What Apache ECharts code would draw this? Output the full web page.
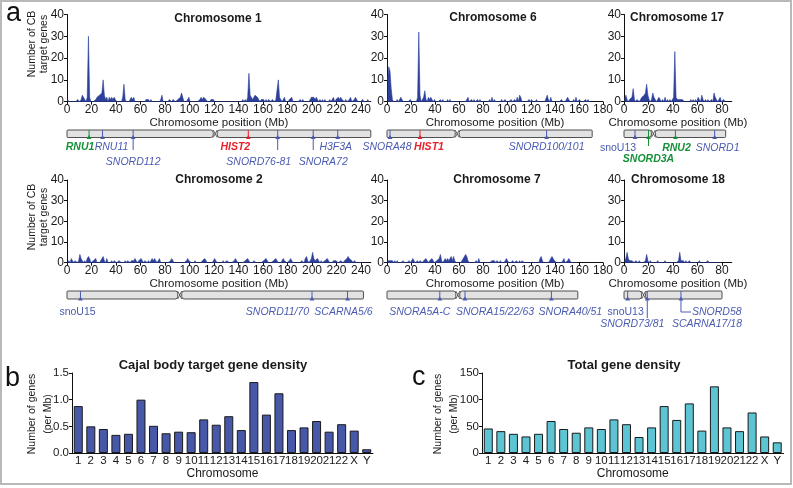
<!DOCTYPE html>
<html><head><meta charset="utf-8">
<script src="https://cdn.jsdelivr.net/npm/echarts@6/dist/echarts.min.js"></script>
<style>html,body{margin:0;padding:0;background:#fff}#c{width:793px;height:488px}</style>
</head><body><div id="c"></div>
<script>
// ---------------- DATA ----------------
const chromosomeNames = ['Chromosome 1','Chromosome 6','Chromosome 17','Chromosome 2','Chromosome 7','Chromosome 18'];
const chromosomeLengths = [248, 171, 83, 242, 159, 80];   // Mb
const centromeres = [121, 58.5, 24, 92, 59, 16];          // Mb

// CB target genes per 1-Mb bin
const chr1Counts = [1,0,0,0,0,0,0,0,1,1, 0,1,3,3,1,0,2,30,2,0, 0,0,0,1,2,2,3,3,4,10, 3,1,2,0,2,1,2,1,2,1,
 0,0,0,0,0,2,8,1,0,0, 0,1,2,1,2,0,0,0,0,0, 0,0,0,0,1,1,1,0,1,0, 0,0,0,0,0,0,1,3,0,0,
 0,0,0,1,1,0,1,1,0,0, 1,1,2,4,2,0,0,0,0,2, 0,0,0,0,0,0,0,0,1,2, 1,2,2,1,0,0,0,1,1,1,
 0,0,0,0,0,0,0,0,0,0, 0,0,0,0,0,0,0,0,0,0, 0,0,0,1,0,1,0,2,13,3, 2,1,2,3,3,2,1,0,1,1,
 1,0,1,0,1,1,0,1,1,0, 1,1,10,2,1,0,0,2,0,0, 0,1,1,2,0,0,0,0,0,0, 1,0,1,0,0,0,0,0,1,2,
 2,2,1,2,1,0,1,0,1,0, 1,0,0,0,1,0,0,2,0,1, 1,2,1,2,1,1,0,1,0,0, 1,2,0,0,1,2,1,0,0,0,
 0,1,0,0,0,1,0,0];
const chr6Counts = [10,16,14,6,1,0,0,0,1,0, 1,2,1,0,0,0,0,0,0,1, 0,0,0,0,0,2,32,3,0,0, 2,5,1,0,2,1,2,1,0,1,
 0,0,0,0,1,0,1,0,0,0, 1,0,1,0,0,0,0,0,0,0, 0,0,0,0,0,0,0,2,0,0, 1,0,1,0,0,1,0,1,0,0,
 0,0,0,0,0,1,0,2,0,1, 0,0,0,0,0,1,0,0,1,0, 0,0,0,1,0,0,1,0,2,0, 3,2,0,0,0,0,0,0,1,0,
 1,0,0,0,1,0,0,0,0,0, 0,0,0,3,1,0,2,0,0,0, 0,0,0,0,0,1,0,0,0,0, 2,1,0,0,0,1,0,2,0,0,
 1,0,0,0,0,1,0,1,0,0, 0];
const chr17Counts = [1,3,1,0,1,1,2,6,1,0, 1,1,0,1,2,2,3,4,8,3, 1,0,1,4,2,1,0,1,2,1, 0,1,0,2,0,1,0,1,0,1,
 2,23,2,1,1,1,1,1,1,0, 0,0,0,0,1,0,1,0,1,0, 2,1,0,3,1,0,1,0,1,0, 0,1,0,4,2,1,0,1,2,0,
 0,1,0];
const chr2Counts = [0,1,0,2,1,0,1,1,0,1, 4,2,1,0,1,0,2,3,2,0, 0,1,1,2,0,0,0,1,1,3, 1,0,2,0,0,0,1,0,1,1,
 0,0,1,1,0,0,0,1,0,1, 1,0,1,1,1,2,1,0,1,1, 2,1,0,1,1,0,1,0,1,2, 1,2,1,0,1,2,0,0,0,0,
 0,0,0,0,1,2,1,0,0,0, 0,0,0,0,0,0,0,1,2,1, 1,0,0,0,1,0,0,0,0,0, 1,1,2,1,0,0,0,0,0,1,
 2,1,0,0,0,0,0,1,0,0, 1,1,0,0,0,0,1,2,1,0, 0,0,0,0,0,1,1,2,1,0, 0,0,1,1,0,0,0,0,0,0,
 1,1,2,1,0,0,0,0,1,1, 2,1,0,0,0,1,2,1,1,0, 0,1,2,1,0,0,0,0,0,0, 0,1,1,0,2,3,1,0,1,2,
 5,2,1,1,2,1,0,1,0,0, 1,1,2,1,0,0,0,1,1,1, 1,0,0,1,1,0,1,1,2,3, 2,2,1,0,1,1,0,0,0,0,
 0,0];
const chr7Counts = [1,1,1,1,1,0,1,0,1,0, 0,0,0,1,0,0,0,0,1,0, 1,2,1,0,0,1,0,1,1,0, 1,1,2,1,0,1,1,2,1,0,
 0,1,1,2,4,1,0,1,2,1, 2,1,2,3,1,3,1,0,0,0, 0,0,1,2,3,4,3,1,0,0, 0,0,0,0,1,0,2,0,0,0,
 0,0,0,0,0,0,0,1,1,1, 0,1,1,0,1,0,0,0,1,2, 1,0,0,0,1,1,0,1,1,0, 1,0,1,1,0,0,0,0,0,0,
 0,0,0,0,0,0,0,2,3,1, 0,0,0,0,0,1,2,3,3,1, 1,0,0,0,0,0,0,2,0,0, 1,2,1,0,0,0,0,0,0];
const chr18Counts = [1,2,5,2,1,1,1,1,0,1, 1,0,1,0,0,0,0,1,4,1, 0,1,0,0,0,0,0,1,0,0, 0,0,0,1,0,0,0,0,0,0,
 0,0,0,0,1,5,1,1,1,0, 1,0,0,1,0,0,0,0,0,0, 0,1,0,0,0,0,0,0,1,0, 0,0,0,0,0,0,0,0,0,0];

// x tick labels (Mb)
const xTicks248 = [0,20,40,60,80,100,120,140,160,180,200,220,240];
const xTicks180 = [0,20,40,60,80,100,120,140,160,180];
const xTicks88 = [0,20,40,60,80];

// annotated genes
const chr1Genes = ['RNU1','RNU11','SNORD112','HIST2','SNORD76-81','SNORA72','H3F3A'];
const chr1GenePos = [18, 29, 54, 148, 172, 201, 221];
const chr1GeneClass = ['snRNA','other','other','histoneCluster','other','other','other'];
const chr6Genes = ['SNORA48','HIST1','SNORD100/101'];
const chr6GenePos = [2.5, 27.5, 133];
const chr6GeneClass = ['other','histoneCluster','other'];
const chr17Genes = ['snoU13','SNORD3A','RNU2','SNORD1'];
const chr17GenePos = [9, 20, 42, 74];
const chr17GeneClass = ['other','snRNA','snRNA','other'];
const chr2Genes = ['snoU15','SNORD11/70','SCARNA5/6'];
const chr2GenePos = [11, 200, 229];
const chr2GeneClass = ['other','other','other'];
const chr7Genes = ['SNORA5A-C','SNORA15/22/63','SNORA40/51'];
const chr7GenePos = [44, 65, 137];
const chr7GeneClass = ['other','other','other'];
const chr18Genes = ['snoU13','SNORD73/81','SNORD58','SCARNA17/18'];
const chr18GenePos = [3, 19, 46.5, 46.5];
const chr18GeneClass = ['other','other','other','other'];

// panels b and c
const densityCategories = ['1','2','3','4','5','6','7','8','9','10','11','12','13','14','15','16','17','18','19','20','21','22','X','Y'];
const cajalDensity = [0.88,0.50,0.45,0.34,0.36,1.00,0.51,0.37,0.40,0.39,0.63,0.53,0.69,0.43,1.33,0.72,1.12,0.43,0.48,0.60,0.40,0.54,0.42,0.07];
const totalDensity = [46,41,36,31,36,60,45,38,48,45,63,54,30,48,88,62,93,42,125,48,41,76,31,20];
const cajalTicks = [0, 0.5, 1.0, 1.5];
const totalTicks = [0, 50, 100, 150];

// ---------------- STYLE / LAYOUT ----------------
const FONT = "'Liberation Sans', Arial, sans-serif";
const TXT = '#1a1a1a';
const PROFILE = '#2d409c';
const geneColors = {snRNA:'#17903a', histoneCluster:'#e8222b', other:'#4a5ab2'};

const panels = [
 {title:chromosomeNames[0], counts:chr1Counts, len:chromosomeLengths[0], cen:centromeres[0], genes:chr1Genes, pos:chr1GenePos, cls:chr1GeneClass, ticks:xTicks248,
  left:67, top:14.5, width:303.8, height:87.2, xMax:248, titleX:218, titleY:20, ideoTop:130, ideoH:7.5, row1:147, row2:162,
  lay:{'RNU1':{dx:-9,row:1},'RNU11':{dx:9,row:1},'SNORD112':{dx:0,row:2},'HIST2':{dx:-13,row:1},'SNORD76-81':{dx:-19,row:2},'SNORA72':{dx:10,row:2},'H3F3A':{dx:-2,row:1}}},
 {title:chromosomeNames[1], counts:chr6Counts, len:chromosomeLengths[1], cen:centromeres[1], genes:chr6Genes, pos:chr6GenePos, cls:chr6GeneClass, ticks:xTicks180,
  left:387, top:14.5, width:216, height:87.2, xMax:180, titleX:493, titleY:19.5, ideoTop:130, ideoH:7.5, row1:147, row2:162,
  lay:{'SNORA48':{dx:-3,row:1},'HIST1':{dx:9,row:1},'SNORD100/101':{dx:0,row:1}}},
 {title:chromosomeNames[2], counts:chr17Counts, len:chromosomeLengths[2], cen:centromeres[2], genes:chr17Genes, pos:chr17GenePos, cls:chr17GeneClass, ticks:xTicks88,
  left:624, top:14.5, width:107.8, height:87.2, xMax:88, titleX:677, titleY:19.5, ideoTop:130, ideoH:7.5, row1:148, row2:159,
  lay:{'snoU13':{dx:-17,row:1},'SNORD3A':{dx:0,row:2,lineEnd:146},'RNU2':{dx:1,row:1},'SNORD1':{dx:3,row:1}}},
 {title:chromosomeNames[3], counts:chr2Counts, len:chromosomeLengths[3], cen:centromeres[3], genes:chr2Genes, pos:chr2GenePos, cls:chr2GeneClass, ticks:xTicks248,
  left:67, top:180, width:303.8, height:82.7, xMax:248, titleX:219, titleY:181, ideoTop:291, ideoH:8, row1:312, row2:323,
  lay:{'snoU15':{dx:-3,row:1},'SNORD11/70':{dx:-34.5,row:1},'SCARNA5/6':{dx:-4,row:1}}},
 {title:chromosomeNames[4], counts:chr7Counts, len:chromosomeLengths[4], cen:centromeres[4], genes:chr7Genes, pos:chr7GenePos, cls:chr7GeneClass, ticks:xTicks180,
  left:387, top:180, width:216, height:82.7, xMax:180, titleX:497, titleY:181, ideoTop:291, ideoH:8, row1:312, row2:323,
  lay:{'SNORA5A-C':{dx:-20,row:1},'SNORA15/22/63':{dx:30,row:1},'SNORA40/51':{dx:19,row:1}}},
 {title:chromosomeNames[5], counts:chr18Counts, len:chromosomeLengths[5], cen:centromeres[5], genes:chr18Genes, pos:chr18GenePos, cls:chr18GeneClass, ticks:xTicks88,
  left:624, top:180, width:107.8, height:82.7, xMax:88, titleX:678, titleY:181, ideoTop:291, ideoH:8, row1:312, row2:324,
  lay:{'snoU13':{dx:-2,row:1},'SNORD73/81':{dx:-15,row:2,lineEnd:318},'SNORD58':{dx:11,row:1,elbow:10,align:'left'},'SCARNA17/18':{dx:26,row:2,noMarker:true}}}
];

function ideoRender(params, api) {
  const len = api.value(0), cen = api.value(1);
  const top = api.coord([0, 1]), bot = api.coord([0, 0]);
  const x0 = top[0], yTop = top[1], yBot = bot[1];
  const xc = api.coord([cen, 0])[0], xL = api.coord([len, 0])[0];
  const h = yBot - yTop, g = 2;
  const st = {fill:'#e2e2e2', stroke:'#3c3c3c', lineWidth:0.9};
  return {type:'group', children:[
    {type:'rect', shape:{x:x0, y:yTop, width:xc-g-x0, height:h, r:[1,2.5,2.5,1]}, style:st},
    {type:'rect', shape:{x:xc+g, y:yTop, width:xL-xc-g, height:h, r:[2.5,1,1,2.5]}, style:st},
    {type:'line', shape:{x1:xc-g, y1:yTop, x2:xc+g, y2:yBot}, style:{stroke:'#3c3c3c', lineWidth:0.8}},
    {type:'line', shape:{x1:xc-g, y1:yBot, x2:xc+g, y2:yTop}, style:{stroke:'#3c3c3c', lineWidth:0.8}}
  ]};
}

function geneRender(p) {
  return function(params, api) {
    const i = api.value(2);
    const name = p.genes[i], lay = p.lay[name], col = geneColors[p.cls[i]];
    const x = api.coord([api.value(0), 0])[0];
    const yBot = api.coord([0, 0])[1], yTop = api.coord([0, 1])[1];
    const rowY = lay.row === 1 ? p.row1 : p.row2;
    const kids = [];
    if (!lay.noMarker) {
      let yEnd = yBot;
      if (lay.row === 2) yEnd = lay.lineEnd !== undefined ? lay.lineEnd : p.row2 - 12;
      if (lay.elbow) yEnd = p.row1;
      kids.push({type:'line', shape:{x1:x, y1:yTop, x2:x, y2:yEnd}, style:{stroke:col, lineWidth:1}});
      kids.push({type:'polygon', shape:{points:[[x-2.4, yBot+1.5],[x+2.4, yBot+1.5],[x, yBot-2.5]]}, style:{fill:col}});
      if (lay.elbow) kids.push({type:'line', shape:{x1:x, y1:yEnd, x2:x+lay.elbow, y2:yEnd}, style:{stroke:col, lineWidth:1}});
    }
    const upright = /^sno/.test(name);
    const bold = p.cls[i] !== 'other';
    kids.push({type:'text', style:{text:name, x:x+lay.dx, y:rowY, align:lay.align||'center', verticalAlign:'middle', fill:col,
      font:(upright?'normal':'italic')+' '+(bold?'bold':'normal')+' 10.5px '+FONT}});
    return {type:'group', children:kids};
  };
}

const grids=[], xAxes=[], yAxes=[], series=[], titles=[];
const axLine = {show:true, lineStyle:{color:'#111', width:1}};
const axTick = {show:true, length:3, lineStyle:{color:'#111', width:1}};

panels.forEach(p => {
  const gi = grids.length;
  grids.push({left:p.left, top:p.top, width:p.width, height:p.height});
  xAxes.push({gridIndex:gi, type:'value', min:0, max:p.xMax, interval:20,
    name:'Chromosome position (Mb)', nameLocation:'middle', nameGap:14,
    nameTextStyle:{fontSize:11.5, color:TXT, fontFamily:FONT},
    axisLine:axLine, axisTick:Object.assign({customValues:p.ticks}, axTick),
    axisLabel:{fontSize:12, color:TXT, margin:2, fontFamily:FONT, customValues:p.ticks}, splitLine:{show:false}});
  yAxes.push({gridIndex:gi, type:'value', min:0, max:40, interval:10, axisLine:axLine, axisTick:axTick,
    axisLabel:{fontSize:12, color:TXT, margin:3, fontFamily:FONT}, splitLine:{show:false}});
  series.push({type:'line', xAxisIndex:gi, yAxisIndex:gi, data:p.counts.map((v,i)=>[i+0.5, v]),
    showSymbol:false, symbol:'none', lineStyle:{width:0.6, color:PROFILE}, areaStyle:{color:PROFILE, opacity:1}, silent:true, z:3});
  const ii = grids.length;
  grids.push({left:p.left, top:p.ideoTop, width:p.width, height:p.ideoH});
  xAxes.push({gridIndex:ii, type:'value', min:0, max:p.xMax, show:false});
  yAxes.push({gridIndex:ii, type:'value', min:0, max:1, show:false});
  series.push({type:'custom', xAxisIndex:ii, yAxisIndex:ii, data:[[p.len, p.cen]], renderItem:ideoRender, silent:true, z:4});
  series.push({type:'custom', xAxisIndex:ii, yAxisIndex:ii, data:p.pos.map((x,i)=>[x, 0, i]), renderItem:geneRender(p), silent:true, z:5});
  titles.push({text:p.title, left:p.titleX, top:p.titleY-7.5, textAlign:'center', padding:0,
    textStyle:{fontSize:12, fontWeight:'bold', color:TXT, fontFamily:FONT}});
});

function barPanel(left, width, values, ticks, color, fmt) {
  const gi = grids.length;
  grids.push({left:left, top:373, width:width, height:80});
  xAxes.push({gridIndex:gi, type:'category', data:densityCategories, axisLine:axLine, axisTick:{show:false},
    axisLabel:{interval:0, fontSize:11.5, color:TXT, margin:2, fontFamily:FONT},
    name:'Chromosome', nameLocation:'middle', nameGap:15, nameTextStyle:{fontSize:12, color:TXT, fontFamily:FONT}});
  yAxes.push({gridIndex:gi, type:'value', min:ticks[0], max:ticks[ticks.length-1], interval:ticks[1]-ticks[0],
    axisLine:axLine, axisTick:axTick, splitLine:{show:false},
    axisLabel:{fontSize:11.5, color:TXT, margin:3, fontFamily:FONT, formatter:fmt}});
  series.push({type:'bar', xAxisIndex:gi, yAxisIndex:gi, data:values, barWidth:9,
    itemStyle:{color:color, borderColor:'#1a1a1a', borderWidth:1}, silent:true});
}
barPanel(72, 301, cajalDensity, cajalTicks, '#4758a8', v => v.toFixed(1));
barPanel(482, 301.5, totalDensity, totalTicks, '#5dc4d4', v => String(v));
titles.push({text:'Cajal body target gene density', left:213, top:359, textAlign:'center', padding:0,
  textStyle:{fontSize:13, fontWeight:'bold', color:TXT, fontFamily:FONT}});
titles.push({text:'Total gene density', left:624, top:359, textAlign:'center', padding:0,
  textStyle:{fontSize:13, fontWeight:'bold', color:TXT, fontFamily:FONT}});

const rotText = (x, y, text, lh) => ({type:'text', x:x, y:y, rotation:Math.PI/2,
  style:{text:text, align:'center', verticalAlign:'middle', font:'10.5px '+FONT, fill:TXT, lineHeight:lh}});
const letter = (x, y, t) => ({type:'text', x:x, y:y, style:{text:t, align:'left', verticalAlign:'middle', font:'27px '+FONT, fill:'#111'}});

const chart = echarts.init(document.getElementById('c'), null, {renderer:'canvas', width:793, height:488});
chart.setOption({
  animation:false,
  backgroundColor:'#fff',
  title:titles, grid:grids, xAxis:xAxes, yAxis:yAxes, series:series,
  graphic:[
    {type:'rect', shape:{x:1, y:1, width:790, height:483}, style:{fill:'none', stroke:'#b9b9b9', lineWidth:2}, silent:true},
    rotText(38, 44, 'Number of CB\ntarget genes', 12),
    rotText(38, 217, 'Number of CB\ntarget genes', 12),
    rotText(40, 414, 'Number of genes\n(per Mb)', 16),
    rotText(446, 414, 'Number of genes\n(per Mb)', 16),
    letter(6, 14, 'a'), letter(5, 379, 'b'), letter(412, 378, 'c')
  ]
});
</script></body></html>
